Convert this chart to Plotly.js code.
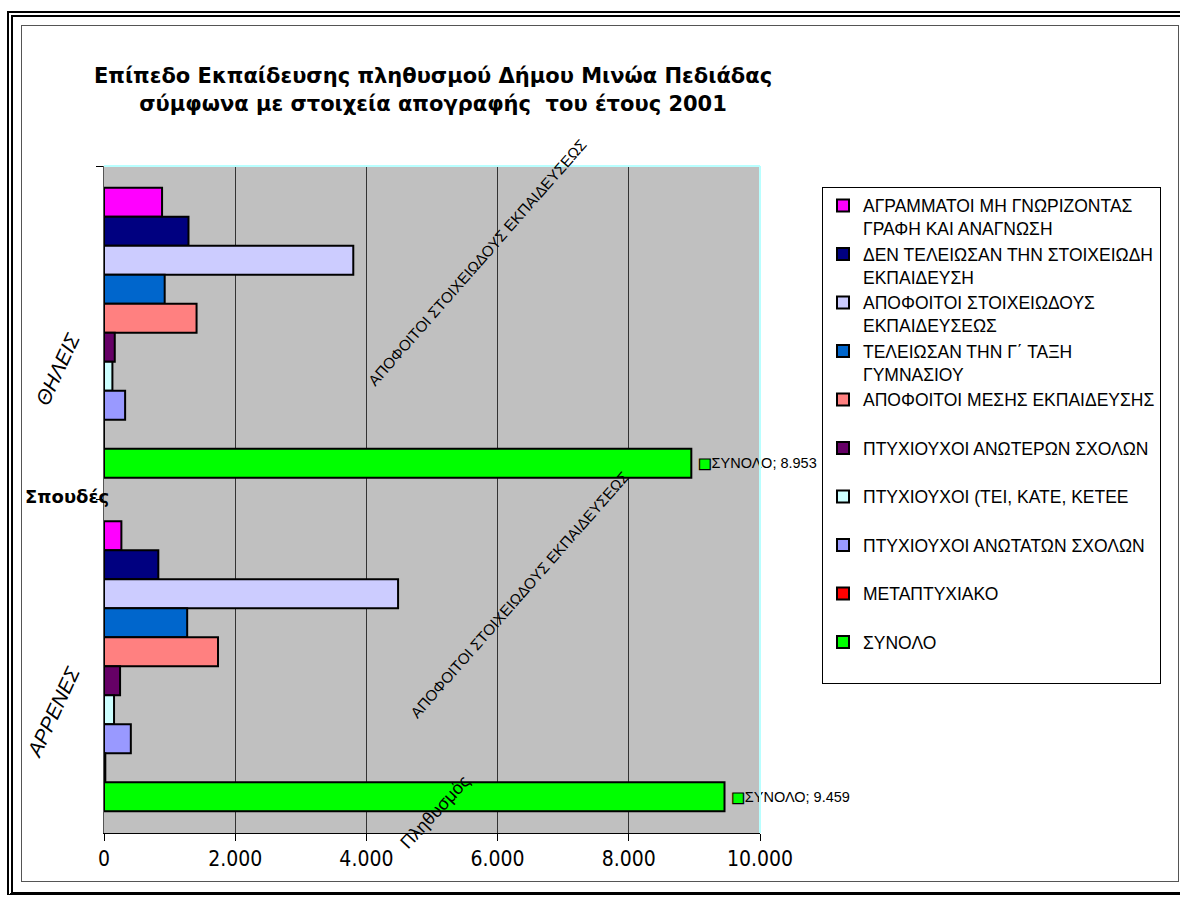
<!DOCTYPE html>
<html>
<head>
<meta charset="utf-8">
<script src="https://cdn.plot.ly/plotly-3.0.1.min.js"></script>
<style>
html,body{margin:0;padding:0;background:#fff;}
#wrap{position:relative;width:1180px;height:897px;overflow:hidden;background:#fff;}
#chart{position:absolute;left:0;top:0;width:1180px;height:897px;}
.frame{position:absolute;pointer-events:none;box-sizing:border-box;}
</style>
</head>
<body>
<div id="wrap">
  <div id="chart"></div>
  <div class="frame" style="left:7px;top:11px;width:1200px;height:884px;border-left:6px double #000;border-top:6px double #000;border-bottom:3px solid #000;"></div>
  <div class="frame" style="left:21px;top:25px;width:1158px;height:857px;border:1.5px solid #555;"></div>
</div>
<script>
// ---- data ----
const categories = ['ΘΗΛΕΙΣ', 'ΑΡΡΕΝΕΣ'];
const seriesNames = [
  'ΑΓΡΑΜΜΑΤΟΙ ΜΗ ΓΝΩΡΙΖΟΝΤΑΣ<br>ΓΡΑΦΗ ΚΑΙ ΑΝΑΓΝΩΣΗ',
  'ΔΕΝ ΤΕΛΕΙΩΣΑΝ ΤΗΝ ΣΤΟΙΧΕΙΩΔΗ<br>ΕΚΠΑΙΔΕΥΣΗ',
  'ΑΠΟΦΟΙΤΟΙ ΣΤΟΙΧΕΙΩΔΟΥΣ<br>ΕΚΠΑΙΔΕΥΣΕΩΣ',
  'ΤΕΛΕΙΩΣΑΝ ΤΗΝ Γ΄ ΤΑΞΗ<br>ΓΥΜΝΑΣΙΟΥ',
  'ΑΠΟΦΟΙΤΟΙ ΜΕΣΗΣ ΕΚΠΑΙΔΕΥΣΗΣ',
  'ΠΤΥΧΙΟΥΧΟΙ ΑΝΩΤΕΡΩΝ ΣΧΟΛΩΝ',
  'ΠΤΥΧΙΟΥΧΟΙ (ΤΕΙ, ΚΑΤΕ, ΚΕΤΕΕ',
  'ΠΤΥΧΙΟΥΧΟΙ ΑΝΩΤΑΤΩΝ ΣΧΟΛΩΝ',
  'ΜΕΤΑΠΤΥΧΙΑΚΟ',
  'ΣΥΝΟΛΟ'
];
const femaleValues = [885, 1288, 3800, 925, 1411, 164, 128, 322, 0, 8953];
const maleValues   = [265, 828, 4483, 1268, 1738, 245, 153, 409, 20, 9459];
const xTickValues  = [0, 2000, 4000, 6000, 8000, 10000];
const totalLabel   = 'ΣΥΝΟΛΟ';
const titleText = 'Επίπεδο Εκπαίδευσης πληθυσμού Δήμου Μινώα Πεδιάδας<br>σύμφωνα με στοιχεία απογραφής  του έτους 2001';
const barNoteText = 'ΑΠΟΦΟΙΤΟΙ ΣΤΟΙΧΕΙΩΔΟΥΣ ΕΚΠΑΙΔΕΥΣΕΩΣ';
const xTitleText = 'Πληθυσμός';
const yTitleText = 'Σπουδές';

// ---- styles ----
const seriesColors = ['#ff00ff', '#000080', '#ccccff', '#0066cc', '#ff8080',
                      '#660066', '#ccffff', '#9999ff', '#ff0000', '#00ff00'];
const SANS = 'Liberation Sans, Arial, sans-serif';
const BOLDFACE = 'DejaVu Sans, Verdana, sans-serif';

const traces = seriesNames.map((name, i) => {
  const isTotal = (i === seriesNames.length - 1);
  const legendName = name.indexOf('<br>') >= 0 ? name : name + '<br>&nbsp;';
  const t = {
    type: 'bar',
    orientation: 'h',
    name: legendName,
    y: categories,
    x: [femaleValues[i], maleValues[i]],
    marker: { color: seriesColors[i], line: { color: '#000', width: 2 } },
    hoverinfo: 'x+name'
  };
  if (isTotal) {
    t.texttemplate = '&nbsp;<span style="color:#00ff00;stroke:#000000;stroke-width:1.2px;font-family:DejaVu Sans;font-size:14px">■</span>' + totalLabel + '; %{x:,d}';
    t.textposition = 'outside';
    t.constraintext = 'none';
    t.cliponaxis = false;
    t.textfont = { family: SANS, size: 14.5, color: '#000' };
  }
  return t;
});

const layout = {
  width: 1180, height: 897,
  margin: { l: 104, r: 420, t: 166, b: 64, pad: 0 },
  paper_bgcolor: '#fff',
  plot_bgcolor: '#c0c0c0',
  barmode: 'group', bargap: 0.13, bargroupgap: 0,
  separators: ',.',
  font: { family: SANS, color: '#000' },
  title: {
    text: titleText,
    xref: 'container', x: 0.367, xanchor: 'center',
    yref: 'container', y: 0.907, yanchor: 'top',
    font: { family: BOLDFACE, size: 21, weight: 'bold', color: '#000' }
  },
  xaxis: {
    range: [0, 10000], tickmode: 'array', tickvals: xTickValues, tickformat: ',d',
    showgrid: true, gridcolor: '#333', gridwidth: 1, zeroline: false,
    showline: true, linecolor: '#000', linewidth: 1,
    ticks: 'outside', ticklen: 7, tickcolor: '#000',
    tickfont: { family: 'Liberation Sans Narrow, DejaVu Sans Condensed, Arial Narrow, sans-serif', size: 21, color: '#000' },
    fixedrange: true
  },
  yaxis: {
    type: 'category', categoryorder: 'array', categoryarray: categories,
    autorange: 'reversed',
    showline: true, linecolor: '#555', linewidth: 1,
    ticks: 'outside', tickson: 'boundaries', ticklen: 7, tickcolor: '#000',
    tickangle: -65, ticklabelstandoff: 28, ticklabelshift: -4,
    tickfont: { family: SANS, size: 20.5, style: 'italic', color: '#000' },
    showgrid: false, zeroline: false, fixedrange: true
  },
  shapes: [
    { type: 'line', xref: 'paper', yref: 'paper', x0: 0, x1: 1, y0: 1, y1: 1, line: { color: '#b8ffff', width: 2 }, layer: 'above' },
    { type: 'line', xref: 'paper', yref: 'paper', x0: 1, x1: 1, y0: 0, y1: 1, line: { color: '#b8ffff', width: 2 }, layer: 'above' }
  ],
  annotations: [
    { text: barNoteText, xref: 'paper', yref: 'paper', x: 0.5686, y: 0.856, xanchor: 'center', yanchor: 'middle', showarrow: false,
      textangle: -48.7, font: { family: SANS, size: 15.2, color: '#000' } },
    { text: barNoteText, xref: 'paper', yref: 'paper', x: 0.634, y: 0.357, xanchor: 'center', yanchor: 'middle', showarrow: false,
      textangle: -48.7, font: { family: SANS, size: 15.2, color: '#000' } },
    { text: xTitleText, xref: 'paper', yref: 'paper', x: 0.5046, y: 0.0315, xanchor: 'center', yanchor: 'middle', showarrow: false,
      textangle: -47, font: { family: SANS, size: 18, color: '#000' } },
    { text: yTitleText, xref: 'paper', yref: 'paper', x: -0.0564, y: 0.504, xanchor: 'center', yanchor: 'middle', showarrow: false,
      font: { family: BOLDFACE, size: 18, weight: 'bold', color: '#000' } }
  ],
  showlegend: true,
  legend: {
    x: 1.0945, xanchor: 'left', y: 0.969, yanchor: 'top',
    xref: 'paper', yref: 'paper',
    bgcolor: '#fff', bordercolor: '#000', borderwidth: 1,
    traceorder: 'normal', valign: 'top',
    font: { family: SANS, size: 17.5, color: '#000' },
    itemclick: false, itemdoubleclick: false
  }
};

Plotly.newPlot('chart', traces, layout, { displayModeBar: false, staticPlot: true });
</script>
</body>
</html>
